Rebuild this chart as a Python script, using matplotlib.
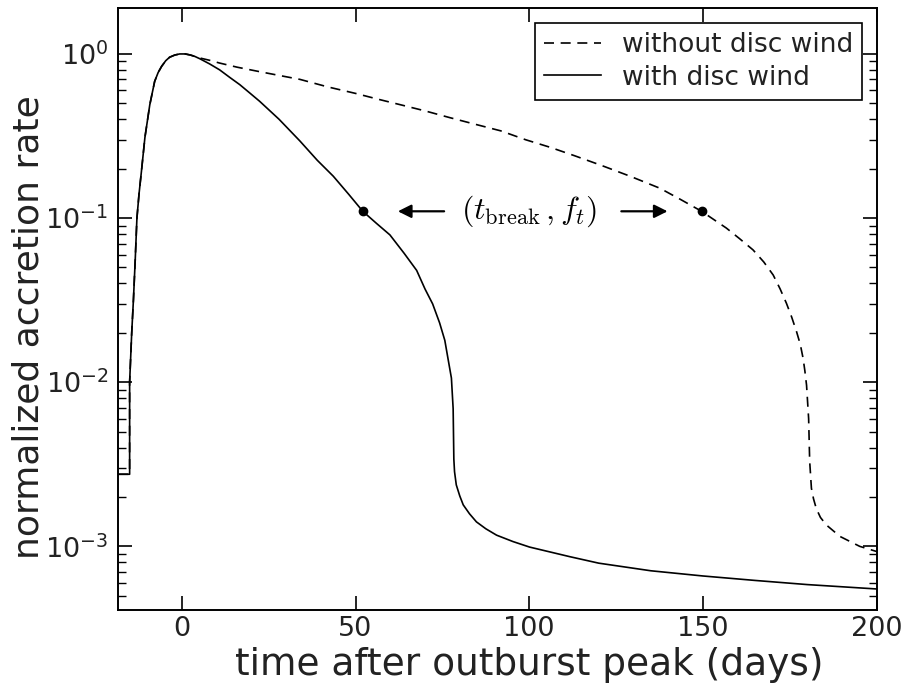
import matplotlib
matplotlib.use('Agg')
import matplotlib.pyplot as plt

plt.rcParams['mathtext.fontset'] = 'cm'
plt.rcParams['font.family'] = 'DejaVu Sans'

# shared rise of the outburst (both models identical before the peak)
t_rise = [-18.3, -15.0, -15.0, -14.4, -13.9, -13.4, -12.9, -12.3, -11.6, -10.6,
          -9.2, -7.8, -6.8, -5.8, -4.6, -3.5, -2.0, -0.6, 1.0, 2.5, 3.8]
f_rise = [2.75e-3, 2.75e-3, 1.0e-2, 2.0e-2, 3.2e-2, 5.5e-2, 0.10, 0.14, 0.193, 0.31,
          0.49, 0.68, 0.77, 0.84, 0.91, 0.955, 0.985, 1.0, 1.0, 0.985, 0.965]

# decay with the disc wind switched on
t_wind = [5.2, 8.0, 10.9, 13.8, 16.7, 19.5, 22.4, 28.0, 34.0, 39.0, 43.6, 48.0,
          52.1, 56.0, 59.9, 64.0, 67.6, 70.0, 72.2, 74.2, 75.7, 76.6, 77.6, 78.1,
          78.3, 78.5, 79.0, 80.0, 81.0, 82.8, 84.8, 87.5, 90.6, 95.3, 100.1,
          111.7, 120.0, 135.0, 150.0, 165.0, 180.0, 200.0]
f_wind = [0.935, 0.87, 0.80, 0.72, 0.65, 0.58, 0.515, 0.40, 0.295, 0.225, 0.18, 0.14,
          0.11, 0.093, 0.079, 0.061, 0.048, 0.037, 0.030, 0.023, 0.018, 0.014, 0.0106, 6.9e-3,
          3.4e-3, 2.85e-3, 2.37e-3, 2.03e-3, 1.79e-3, 1.58e-3, 1.41e-3, 1.28e-3, 1.17e-3, 1.07e-3, 9.9e-4,
          8.65e-4, 7.9e-4, 7.1e-4, 6.6e-4, 6.2e-4, 5.85e-4, 5.5e-4]

# decay without the disc wind
t_nowind = [5.2, 8.0, 10.9, 16.0, 22.4, 28.0, 34.0, 42.0, 50.0, 56.5, 63.0, 70.0,
            77.0, 84.0, 91.8, 99.0, 106.0, 113.0, 120.6, 129.0, 137.6, 143.5,
            149.6, 156.7, 160.5, 164.4, 167.5, 170.2, 172.2, 174.0, 175.5, 176.9,
            178.0, 178.8, 179.3, 179.8, 180.4, 180.7, 181.2, 181.8, 182.6, 183.8,
            185.5, 189.4, 195.1, 200.0]
f_nowind = [0.945, 0.915, 0.88, 0.83, 0.78, 0.74, 0.70, 0.63, 0.575, 0.53, 0.49, 0.45,
            0.41, 0.375, 0.34, 0.30, 0.27, 0.24, 0.21, 0.18, 0.152, 0.13,
            0.110, 0.087, 0.075, 0.064, 0.054, 0.045, 0.037, 0.0303, 0.025, 0.0204,
            0.017, 0.0140, 0.0118, 9.6e-3, 6.0e-3, 3.3e-3, 2.26e-3, 1.95e-3, 1.7e-3, 1.5e-3,
            1.35e-3, 1.15e-3, 1.0e-3, 9.3e-4]

# break points marked on each curve
t_break = [52.1, 149.6]
f_break = [0.11, 0.11]

fig = plt.figure(figsize=(9.02, 6.83), dpi=100)
ax = fig.add_axes([0.131, 0.107, 0.841, 0.881])

ax.plot(t_rise + t_nowind, f_rise + f_nowind, color='k', ls='--', lw=1.2,
        dashes=(6, 4), label='without disc wind')
ax.plot(t_rise + t_wind, f_rise + f_wind, color='k', ls='-', lw=1.2,
        label='with disc wind')
ax.plot(t_break, f_break, 'o', color='k', ms=6, zorder=5)

ax.set_yscale('log')
ax.set_xlim(-18.3, 200)
ax.set_ylim(4.1e-4, 1.9)
ax.set_xticks([0, 50, 100, 150, 200])

ax.text(100, 0.11, r'$(t_{\rm break}\,,f_t)$', fontsize=23,
        ha='center', va='center')
ax.annotate('', xy=(62.2, 0.11), xytext=(75.5, 0.11),
            arrowprops=dict(arrowstyle='-|>', color='k', lw=1.6,
                            mutation_scale=20, shrinkA=0, shrinkB=0))
ax.annotate('', xy=(139.8, 0.11), xytext=(126.5, 0.11),
            arrowprops=dict(arrowstyle='-|>', color='k', lw=1.6,
                            mutation_scale=20, shrinkA=0, shrinkB=0))

ax.tick_params(which='both', direction='in', top=True, right=True,
               labelsize=19.5, labelcolor='#222222')
ax.tick_params(which='major', length=10, width=1.2, pad=7)
ax.tick_params(which='minor', length=6, width=1.0)
ax.tick_params(axis='x', which='major', pad=4.5)
ax.tick_params(axis='x', which='minor', bottom=False, top=False)
for sp in ax.spines.values():
    sp.set_linewidth(1.4)

ax.set_xlabel('time after outburst peak (days)', fontsize=27,
              color='#222222')
ax.set_ylabel('normalized accretion rate', fontsize=26, color='#222222')
ax.xaxis.set_label_coords(0.5415, -0.061)
ax.yaxis.set_label_coords(-0.096, 0.47)

leg = ax.legend(loc='upper right', fontsize=19, handlelength=2.15,
                handletextpad=0.8, fancybox=False, framealpha=1,
                borderaxespad=0.55, borderpad=0.35, labelspacing=0.25)
leg.get_frame().set_edgecolor('k')
leg.get_frame().set_linewidth(1.2)
for txt in leg.get_texts():
    txt.set_color('#222222')

fig.savefig('out.png', dpi=100)
